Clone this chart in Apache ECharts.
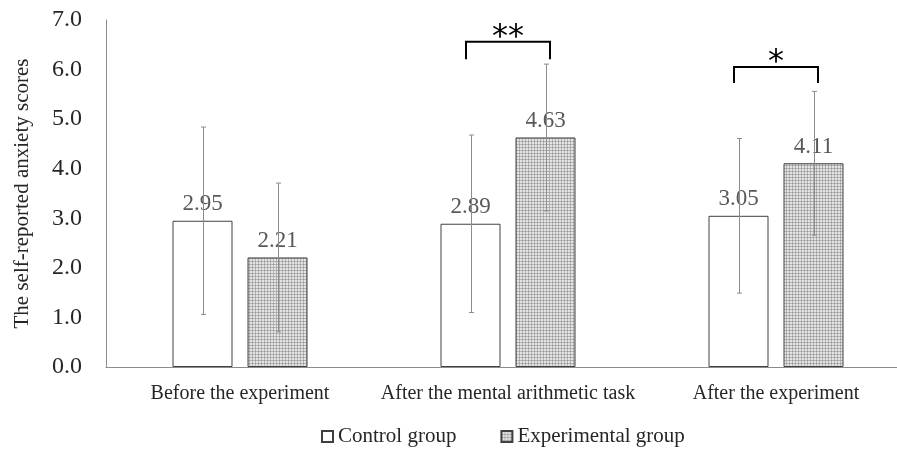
<!DOCTYPE html>
<html>
<head>
<meta charset="utf-8">
<script src="https://cdn.jsdelivr.net/npm/echarts@6/dist/echarts.min.js"></script>
<style>
  html, body { margin: 0; padding: 0; background: #fff; overflow: hidden; }
  /* the original picture is cropped on the right, so the plot runs past the window */
  #chart { width: 910px; height: 450px; }
</style>
</head>
<body>
<div id="chart"></div>
<script>
// data
const categories = ['Before the experiment', 'After the mental arithmetic task', 'After the experiment'];
const controlMeans = [2.95, 2.89, 3.05];
const controlSD = [1.89, 1.79, 1.56];
const experimentalMeans = [2.21, 4.63, 4.11];
const experimentalSD = [1.50, 1.48, 1.45];
const yTicks = [0, 1, 2, 3, 4, 5, 6, 7];
// significance brackets: category index, top of bracket, bottom of legs, stars
const sigCategory = [1, 2];
const sigTop = [6.56, 6.05];
const sigLegs = [6.21, 5.73];
const sigStars = ['**', '*'];

const BAR_W = 60;
const BAR_OFFSET = 37.5; // half of bar width + half gap
const BRACKET_HALF = 42;

// dotted grey fill used for the experimental bars
const pat = document.createElement('canvas');
pat.width = 3; pat.height = 3;
const pctx = pat.getContext('2d');
pctx.fillStyle = '#e4e4e4'; pctx.fillRect(0, 0, 3, 3);
pctx.fillStyle = '#b4b4b4'; pctx.fillRect(0, 0, 3, 1); pctx.fillRect(0, 0, 1, 3);
pctx.fillStyle = '#9a9a9a'; pctx.fillRect(0, 0, 1, 1);

const serif = '"Liberation Serif", "Times New Roman", serif';

function errorBarSeries(means, sds, offset) {
  return {
    type: 'custom',
    silent: true,
    z: 5,
    data: means.map((m, i) => [i, m - sds[i], m + sds[i]]),
    renderItem: (params, api) => {
      const lo = api.coord([api.value(0), api.value(1)]);
      const hi = api.coord([api.value(0), api.value(2)]);
      const x = Math.round(lo[0] + offset) + 0.5;
      const cap = 2.5;
      const style = { stroke: '#8c8c8c', lineWidth: 1 };
      return {
        type: 'group',
        children: [
          { type: 'line', shape: { x1: x, y1: hi[1], x2: x, y2: lo[1] }, style },
          { type: 'line', shape: { x1: x - cap, y1: hi[1], x2: x + cap, y2: hi[1] }, style },
          { type: 'line', shape: { x1: x - cap, y1: lo[1], x2: x + cap, y2: lo[1] }, style }
        ]
      };
    }
  };
}

const chart = echarts.init(document.getElementById('chart'));

const option = {
  animation: false,
  grid: { left: 106, right: 0, top: 20, bottom: 83, containLabel: false },
  legend: {
    bottom: -2,
    left: 316,
    icon: 'rect',
    itemWidth: 11,
    itemHeight: 11,
    itemGap: 44,
    textStyle: { fontFamily: serif, fontSize: 21, color: '#262626' },
    data: ['Control group', 'Experimental group']
  },
  xAxis: {
    type: 'category',
    data: categories,
    axisLine: { lineStyle: { color: '#8c8c8c', width: 1 } },
    axisTick: { show: false },
    axisLabel: { interval: 0, fontFamily: serif, fontSize: 20, color: '#262626', margin: 17 }
  },
  yAxis: {
    type: 'value',
    min: 0,
    max: 7,
    interval: 1,
    name: 'The self-reported anxiety scores',
    nameLocation: 'middle',
    nameGap: 73,
    nameTextStyle: { fontFamily: serif, fontSize: 21, color: '#262626' },
    axisLine: { show: true, lineStyle: { color: '#8c8c8c', width: 1 } },
    axisTick: { show: false },
    splitLine: { show: false },
    axisLabel: {
      fontFamily: serif, fontSize: 24, color: '#262626', margin: 24,
      padding: [0, 0, 12, 0],
      formatter: v => yTicks.includes(v) ? v.toFixed(1) : ''
    }
  },
  series: [
    {
      name: 'Control group',
      type: 'bar',
      barWidth: BAR_W,
      barGap: '25%',
      data: controlMeans,
      itemStyle: { color: '#ffffff', borderColor: '#404040', borderWidth: 1 },
      label: { show: true, position: 'top', distance: 5, fontFamily: serif, fontSize: 23, color: '#595959', formatter: p => p.value.toFixed(2) }
    },
    {
      name: 'Experimental group',
      type: 'bar',
      barWidth: BAR_W,
      barGap: '25%',
      data: experimentalMeans,
      itemStyle: { color: { image: pat, repeat: 'repeat' }, borderColor: '#404040', borderWidth: 1 },
      label: { show: true, position: 'top', distance: 5, fontFamily: serif, fontSize: 23, color: '#595959', formatter: p => p.value.toFixed(2) }
    },
    errorBarSeries(controlMeans, controlSD, -BAR_OFFSET),
    errorBarSeries(experimentalMeans, experimentalSD, BAR_OFFSET),
    {
      type: 'custom',
      silent: true,
      z: 6,
      data: sigCategory.map((c, i) => [c, sigTop[i], sigLegs[i], i]),
      renderItem: (params, api) => {
        const top = api.coord([api.value(0), api.value(1)]);
        const leg = api.coord([api.value(0), api.value(2)]);
        const xl = top[0] - BRACKET_HALF;
        const xr = top[0] + BRACKET_HALF;
        const style = { stroke: '#000', lineWidth: 2, fill: null };
        return {
          type: 'group',
          children: [
            { type: 'polyline', shape: { points: [[xl, leg[1]], [xl, top[1]], [xr, top[1]], [xr, leg[1]]] }, style },
            {
              type: 'text',
              style: {
                text: sigStars[api.value(3)], x: top[0], y: top[1] + 12,
                align: 'center', verticalAlign: 'bottom',
                font: '32px "DejaVu Sans", sans-serif', fill: '#000'
              }
            }
          ]
        };
      }
    }
  ]
};

chart.setOption(option);
window.addEventListener('resize', () => chart.resize());
</script>
</body>
</html>
